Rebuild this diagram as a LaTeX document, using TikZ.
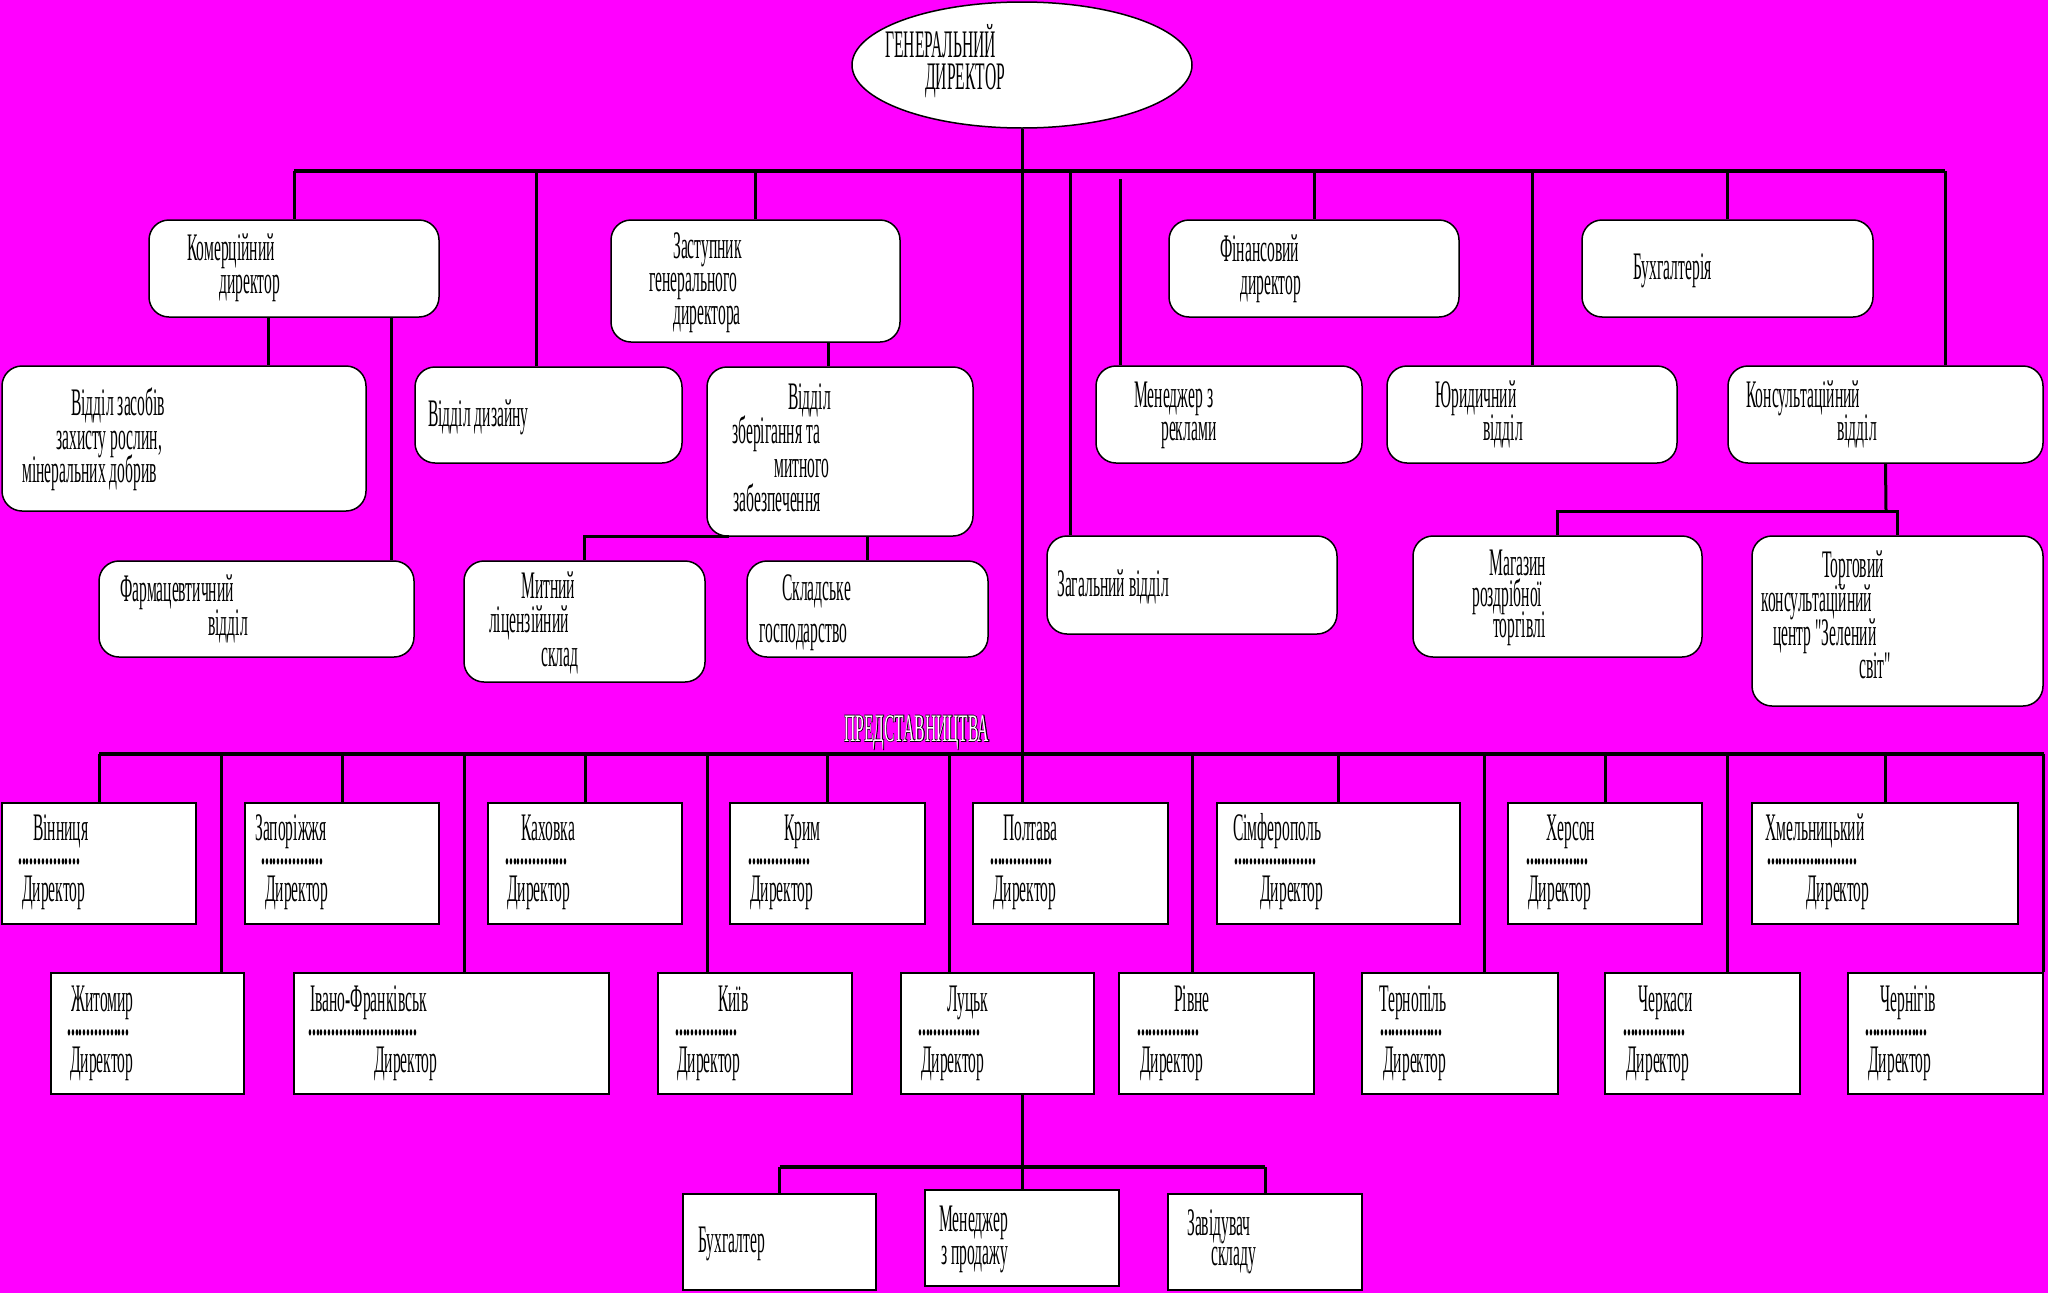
\documentclass[tikz,border=0pt]{standalone}
\usepackage{fontspec}
\setmainfont{Liberation Serif}[Ligatures=TeXOff]
\usetikzlibrary{shapes.geometric}
\definecolor{bgmag}{RGB}{255,0,255}
\def\nar#1{\scalebox{0.4}[1]{#1}}
\def\hollow#1{\rlap{\special{pdf:literal direct 2 Tr 1.5 w}#1\special{pdf:literal direct 0 Tr}}\textcolor{white}{#1}}
\tikzset{
	rbox/.style 2 args={draw, fill=white, rounded corners=20pt, line width=1.5pt, inner sep=0pt, minimum width=#1, minimum height=#2},
	sbox/.style 2 args={draw, fill=white, line width=1.5pt, inner sep=0pt, minimum width=#1, minimum height=#2},
	txt/.style={anchor=base west, inner sep=0pt, font=\fontsize{39}{39}\selectfont},
	link/.style={line width=3pt},
	bus/.style={line width=3.5pt}
}

\begin{document}
\begin{tikzpicture}[x=1pt, y=-1pt]
			%%%%% START %%%%%
			\useasboundingbox (0,0) rectangle (2048,1293);
			\fill[bgmag] (0,0) rectangle (2048,1293);
			
			% head
			\node[draw, fill=white, ellipse, line width=1.5pt, inner sep=0pt, minimum width=340pt, minimum height=126pt] (gd) at (1022,65) {};
			\node[txt] (gd-1) at (885,57) {\nar{ГЕНЕРАЛЬНИЙ}};
			\node[txt] (gd-2) at (925,89) {\nar{ДИРЕКТОР}};
			
			% departments
			\node[rbox={290pt}{97pt}] (kom) at (294,268.5) {};
			\node[rbox={289pt}{122pt}] (zast) at (755.5,281) {};
			\node[rbox={290pt}{97pt}] (fin) at (1314,268.5) {};
			\node[rbox={291pt}{97pt}] (buh) at (1727.5,268.5) {};
			\node[rbox={364pt}{145pt}] (zakh) at (184,438.5) {};
			\node[rbox={267pt}{96pt}] (diz) at (548.5,415) {};
			\node[rbox={266pt}{169pt}] (zber) at (840,451.5) {};
			\node[rbox={266pt}{97pt}] (man) at (1229,414.5) {};
			\node[rbox={290pt}{97pt}] (yur) at (1532,414.5) {};
			\node[rbox={315pt}{97pt}] (kons) at (1885.5,414.5) {};
			\node[rbox={315pt}{96pt}] (farm) at (256.5,609) {};
			\node[rbox={241pt}{121pt}] (myt) at (584.5,621.5) {};
			\node[rbox={241pt}{96pt}] (skl) at (867.5,609) {};
			\node[rbox={290pt}{98pt}] (zag) at (1192,585) {};
			\node[rbox={289pt}{121pt}] (mag) at (1557.5,596.5) {};
			\node[rbox={291pt}{170pt}] (torg) at (1897.5,621) {};
			
			\node[txt] (kom-1) at (187,260) {\nar{Комерційний}};
			\node[txt] (kom-2) at (219,293) {\nar{директор}};
			\node[txt] (zast-1) at (673,258) {\nar{Заступник}};
			\node[txt] (zast-2) at (649,291) {\nar{генерального}};
			\node[txt] (zast-3) at (673,324) {\nar{директора}};
			\node[txt] (fin-1) at (1220,261) {\nar{Фінансовий}};
			\node[txt] (fin-2) at (1240,294) {\nar{директор}};
			\node[txt] (buh-1) at (1633,279) {\nar{Бухгалтерія}};
			\node[txt] (zakh-1) at (71,415) {\nar{Відділ засобів}};
			\node[txt] (zakh-2) at (56,449) {\nar{захисту рослин,}};
			\node[txt] (zakh-3) at (22,482) {\nar{мінеральних добрив}};
			\node[txt] (diz-1) at (428,426) {\nar{Відділ дизайну}};
			\node[txt] (zber-1) at (788,409) {\nar{Відділ}};
			\node[txt] (zber-2) at (732,443) {\nar{зберігання та}};
			\node[txt] (zber-3) at (774,477) {\nar{митного}};
			\node[txt] (zber-4) at (733,511) {\nar{забезпечення}};
			\node[txt] (farm-1) at (120,601) {\nar{Фармацевтичний}};
			\node[txt] (farm-2) at (208,635) {\nar{відділ}};
			\node[txt] (myt-1) at (521,598) {\nar{Митний}};
			\node[txt] (myt-2) at (489,632) {\nar{ліцензійний}};
			\node[txt] (myt-3) at (541,666) {\nar{склад}};
			\node[txt] (skl-1) at (782,600) {\nar{Складське}};
			\node[txt] (skl-2) at (759,642) {\nar{господарство}};
			\node[txt] (man-1) at (1134,407) {\nar{Менеджер з}};
			\node[txt] (man-2) at (1161,440) {\nar{реклами}};
			\node[txt] (yur-1) at (1435,407) {\nar{Юридичний}};
			\node[txt] (yur-2) at (1483,440) {\nar{відділ}};
			\node[txt] (kons-1) at (1746,407) {\nar{Консультаційний}};
			\node[txt] (kons-2) at (1837,440) {\nar{відділ}};
			\node[txt] (zag-1) at (1057,596) {\nar{Загальний відділ}};
			\node[txt] (mag-1) at (1489,575) {\nar{Магазин}};
			\node[txt] (mag-2) at (1472,606) {\nar{роздрібної}};
			\node[txt] (mag-3) at (1493,637) {\nar{торгівлі}};
			\node[txt] (torg-1) at (1822,577) {\nar{Торговий}};
			\node[txt] (torg-2) at (1761,611) {\nar{консультаційний}};
			\node[txt] (torg-3) at (1773,645) {\nar{центр "Зелений}};
			\node[txt] (torg-4) at (1859,678) {\nar{світ"}};
			
			\node[txt] (rep) at (844,741) {\nar{\hollow{ПРЕДСТАВНИЦТВА}}};
			
			% offices, first row
			\node[sbox={194pt}{121pt}] (vin) at (99,863.5) {};
			\node[sbox={194pt}{121pt}] (zap) at (342,863.5) {};
			\node[sbox={194pt}{121pt}] (kah) at (585,863.5) {};
			\node[sbox={195pt}{121pt}] (krym) at (827.5,863.5) {};
			\node[sbox={195pt}{121pt}] (polt) at (1070.5,863.5) {};
			\node[sbox={243pt}{121pt}] (simf) at (1338.5,863.5) {};
			\node[sbox={194pt}{121pt}] (kher) at (1605,863.5) {};
			\node[sbox={266pt}{121pt}] (khm) at (1885,863.5) {};
			
			% offices, second row
			\node[sbox={193pt}{121pt}] (zhyt) at (147.5,1033.5) {};
			\node[sbox={315pt}{121pt}] (ivano) at (451.5,1033.5) {};
			\node[sbox={194pt}{121pt}] (kyiv) at (755,1033.5) {};
			\node[sbox={193pt}{121pt}] (lutsk) at (997.5,1033.5) {};
			\node[sbox={195pt}{121pt}] (rivne) at (1216.5,1033.5) {};
			\node[sbox={196pt}{121pt}] (tern) at (1460,1033.5) {};
			\node[sbox={195pt}{121pt}] (cherk) at (1702.5,1033.5) {};
			\node[sbox={195pt}{121pt}] (chern) at (1945.5,1033.5) {};
			
			% Lutsk staff
			\node[sbox={193pt}{96pt}] (buhg) at (779.5,1242) {};
			\node[sbox={194pt}{96pt}] (menp) at (1022,1238) {};
			\node[sbox={194pt}{96pt}] (zav) at (1265,1242) {};
			
			\node[txt] (vin-n) at (33,840) {\nar{Вінниця}};
			\node[txt] (vin-d) at (18,864) {\nar{\bfseries................}};
			\node[txt] (vin-r) at (22,901) {\nar{Директор}};
			\node[txt] (zap-n) at (255,840) {\nar{Запоріжжя}};
			\node[txt] (zap-d) at (261,864) {\nar{\bfseries................}};
			\node[txt] (zap-r) at (265,901) {\nar{Директор}};
			\node[txt] (kah-n) at (521,840) {\nar{Каховка}};
			\node[txt] (kah-d) at (505,864) {\nar{\bfseries................}};
			\node[txt] (kah-r) at (507,901) {\nar{Директор}};
			\node[txt] (krym-n) at (784,840) {\nar{Крим}};
			\node[txt] (krym-d) at (748,864) {\nar{\bfseries................}};
			\node[txt] (krym-r) at (750,901) {\nar{Директор}};
			\node[txt] (polt-n) at (1003,840) {\nar{Полтава}};
			\node[txt] (polt-d) at (990,864) {\nar{\bfseries................}};
			\node[txt] (polt-r) at (993,901) {\nar{Директор}};
			\node[txt] (simf-n) at (1233,840) {\nar{Сімферополь}};
			\node[txt] (simf-d) at (1234,864) {\nar{\bfseries.....................}};
			\node[txt] (simf-r) at (1260,901) {\nar{Директор}};
			\node[txt] (kher-n) at (1546,840) {\nar{Херсон}};
			\node[txt] (kher-d) at (1526,864) {\nar{\bfseries................}};
			\node[txt] (kher-r) at (1528,901) {\nar{Директор}};
			\node[txt] (khm-n) at (1765,840) {\nar{Хмельницький}};
			\node[txt] (khm-d) at (1767,864) {\nar{\bfseries.......................}};
			\node[txt] (khm-r) at (1806,901) {\nar{Директор}};
			
			\node[txt] (zhyt-n) at (71,1011) {\nar{Житомир}};
			\node[txt] (zhyt-d) at (67,1035) {\nar{\bfseries................}};
			\node[txt] (zhyt-r) at (70,1072) {\nar{Директор}};
			\node[txt] (ivano-n) at (310,1011) {\nar{Івано-Франківськ}};
			\node[txt] (ivano-d) at (308,1035) {\nar{\bfseries............................}};
			\node[txt] (ivano-r) at (374,1072) {\nar{Директор}};
			\node[txt] (kyiv-n) at (718,1011) {\nar{Київ}};
			\node[txt] (kyiv-d) at (675,1035) {\nar{\bfseries................}};
			\node[txt] (kyiv-r) at (677,1072) {\nar{Директор}};
			\node[txt] (lutsk-n) at (947,1011) {\nar{Луцьк}};
			\node[txt] (lutsk-d) at (918,1035) {\nar{\bfseries................}};
			\node[txt] (lutsk-r) at (921,1072) {\nar{Директор}};
			\node[txt] (rivne-n) at (1174,1011) {\nar{Рівне}};
			\node[txt] (rivne-d) at (1137,1035) {\nar{\bfseries................}};
			\node[txt] (rivne-r) at (1140,1072) {\nar{Директор}};
			\node[txt] (tern-n) at (1379,1011) {\nar{Тернопіль}};
			\node[txt] (tern-d) at (1380,1035) {\nar{\bfseries................}};
			\node[txt] (tern-r) at (1383,1072) {\nar{Директор}};
			\node[txt] (cherk-n) at (1638,1011) {\nar{Черкаси}};
			\node[txt] (cherk-d) at (1623,1035) {\nar{\bfseries................}};
			\node[txt] (cherk-r) at (1626,1072) {\nar{Директор}};
			\node[txt] (chern-n) at (1880,1011) {\nar{Чернігів}};
			\node[txt] (chern-d) at (1865,1035) {\nar{\bfseries................}};
			\node[txt] (chern-r) at (1868,1072) {\nar{Директор}};
			
			\node[txt] (buhg-1) at (698,1252) {\nar{Бухгалтер}};
			\node[txt] (menp-1) at (939,1231) {\nar{Менеджер}};
			\node[txt] (menp-2) at (941,1264) {\nar{з продажу}};
			\node[txt] (zav-1) at (1187,1235) {\nar{Завідувач}};
			\node[txt] (zav-2) at (1211,1265) {\nar{складу}};
			
			% connectors
			\coordinate (tb) at (1022,171);
			\coordinate (rb) at (1022,754);
			\coordinate (lb) at (1022,1167);
			\coordinate (kb) at (1886,511);
			\coordinate (mt) at (1120,179);
			
			\draw[link] (gd.south) -- ([xshift=-48.5pt]polt.north);
			\draw[bus] (kom.north |- tb) -- ([xshift=59.5pt]kons.north |- tb);
			\draw[link] (kom.north) -- (kom.north |- tb);
			\draw[link] ([xshift=-12.5pt]diz.north) -- ([xshift=-12.5pt]diz.north |- tb);
			\draw[link] (zast.north) -- (zast.north |- tb);
			\draw[link] ([xshift=-122pt]zag.north) -- ([xshift=-122pt]zag.north |- tb);
			\draw[link] (mt) -- (mt |- man.north);
			\draw[link] (fin.north) -- (fin.north |- tb);
			\draw[link] (yur.north) -- (yur.north |- tb);
			\draw[link] (buh.north) -- (buh.north |- tb);
			\draw[link] ([xshift=59.5pt]kons.north) -- ([xshift=59.5pt]kons.north |- tb);
			
			\draw[link] ([xshift=-26pt]kom.south) -- ([xshift=-26pt]kom.south |- zakh.north);
			\draw[link] ([xshift=97pt]kom.south) -- ([xshift=97pt]kom.south |- farm.north);
			\draw[link] ([xshift=72.5pt]zast.south) -- ([xshift=72.5pt]zast.south |- zber.north);
			\draw[link] ([xshift=23pt]zber.south west) -| (myt.north);
			\draw[link] (skl.north) -- (skl.north |- zber.south);
			\draw[link] (kons.south) -- (kb);
			\draw[link] (mag.north) |- (kb) -| (torg.north);
			
			\draw[bus] (vin.north |- rb) -- (chern.north east |- rb);
			\draw[link] (vin.north) -- (vin.north |- rb);
			\draw[link] (zap.north) -- (zap.north |- rb);
			\draw[link] (kah.north) -- (kah.north |- rb);
			\draw[link] (krym.north) -- (krym.north |- rb);
			\draw[link] (simf.north) -- (simf.north |- rb);
			\draw[link] (kher.north) -- (kher.north |- rb);
			\draw[link] (khm.north) -- (khm.north |- rb);
			\draw[link] ([xshift=73.5pt]zhyt.north) -- ([xshift=73.5pt]zhyt.north |- rb);
			\draw[link] ([xshift=12.5pt]ivano.north) -- ([xshift=12.5pt]ivano.north |- rb);
			\draw[link] ([xshift=-48pt]kyiv.north) -- ([xshift=-48pt]kyiv.north |- rb);
			\draw[link] ([xshift=-48.5pt]lutsk.north) -- ([xshift=-48.5pt]lutsk.north |- rb);
			\draw[link] ([xshift=-24.5pt]rivne.north) -- ([xshift=-24.5pt]rivne.north |- rb);
			\draw[link] ([xshift=24pt]tern.north) -- ([xshift=24pt]tern.north |- rb);
			\draw[link] ([xshift=24.5pt]cherk.north) -- ([xshift=24.5pt]cherk.north |- rb);
			\draw[link] (chern.north east) -- (chern.north east |- rb);
			
			\draw[link] ([xshift=24.5pt]lutsk.south) -- (menp.north);
			\draw[bus] (buhg.north |- lb) -- (zav.north |- lb);
			\draw[link] (buhg.north) -- (buhg.north |- lb);
			\draw[link] (zav.north) -- (zav.north |- lb);
			
			%%%%% END %%%%%
\end{tikzpicture}
\end{document}
